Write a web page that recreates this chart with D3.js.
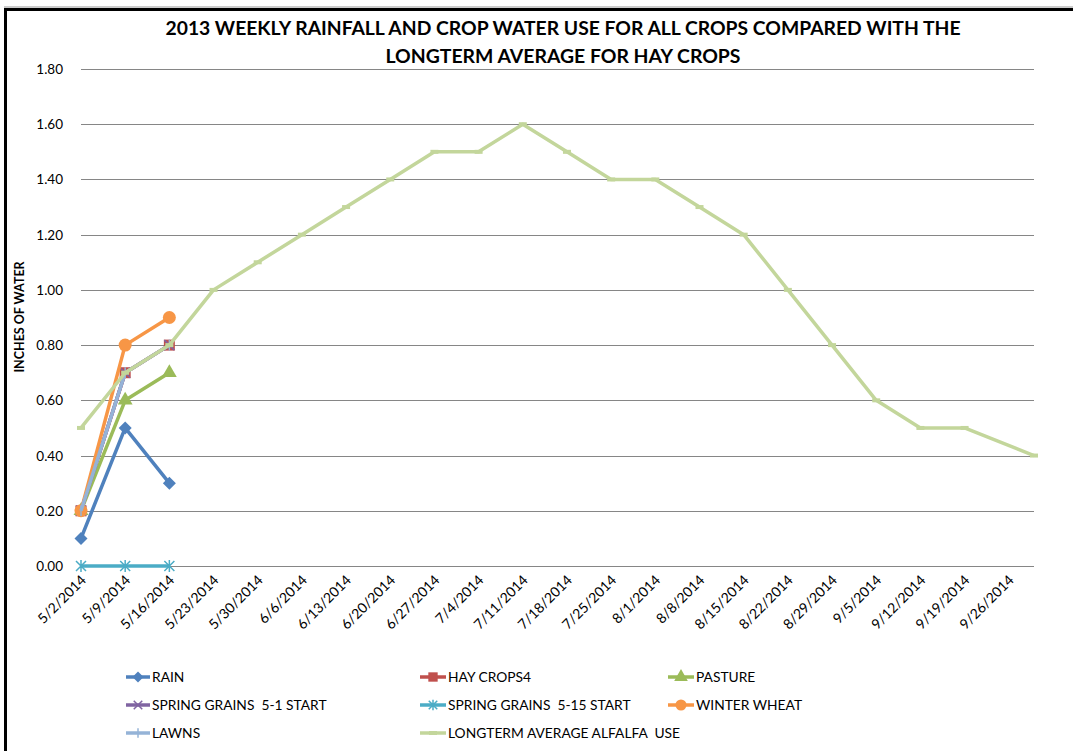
<!DOCTYPE html>
<html><head><meta charset="utf-8">
<script src="https://cdn.jsdelivr.net/npm/d3@7/dist/d3.min.js"></script>
<style>
body{margin:0;background:#fff;}
svg text{font-family:"Lato","Open Sans",sans-serif;fill:#000;}
</style></head>
<body><svg id="c" width="1073" height="751"></svg>
<script>
// ---- data ----
const weekLabels = ["5/2/2014","5/9/2014","5/16/2014","5/23/2014","5/30/2014","6/6/2014","6/13/2014","6/20/2014","6/27/2014","7/4/2014","7/11/2014","7/18/2014","7/25/2014","8/1/2014","8/8/2014","8/15/2014","8/22/2014","8/29/2014","9/5/2014","9/12/2014","9/19/2014","9/26/2014"];
const axisEnd = "9/30/2014";
const earlyDates = ["5/2/2014","5/9/2014","5/16/2014"];
const rain = [0.1, 0.5, 0.3];
const hayCrops4 = [0.2, 0.7, 0.8];
const pasture = [0.2, 0.6, 0.7];
const springGrains51 = [0.2, 0.7, 0.8];
const springGrains515 = [0, 0, 0];
const winterWheat = [0.2, 0.8, 0.9];
const lawns = [0.2, 0.7, 0.8];
const longtermDates = ["5/2/2014","5/9/2014","5/16/2014","5/23/2014","5/30/2014","6/6/2014","6/13/2014","6/20/2014","6/27/2014","7/4/2014","7/11/2014","7/18/2014","7/25/2014","8/1/2014","8/8/2014","8/15/2014","8/22/2014","8/29/2014","9/5/2014","9/12/2014","9/19/2014","9/30/2014"];
const longtermAlfalfa = [0.5, 0.7, 0.8, 1.0, 1.1, 1.2, 1.3, 1.4, 1.5, 1.5, 1.6, 1.5, 1.4, 1.4, 1.3, 1.2, 1.0, 0.8, 0.6, 0.5, 0.5, 0.4];
const yTicks = [0, 0.2, 0.4, 0.6, 0.8, 1.0, 1.2, 1.4, 1.6, 1.8];
const titleLines = ["2013 WEEKLY RAINFALL AND CROP WATER USE FOR ALL CROPS COMPARED WITH THE","LONGTERM AVERAGE FOR HAY CROPS"];

const parse = d3.timeParse("%m/%d/%Y");
const series = [
  {name:"RAIN", dates:earlyDates, values:rain, color:"#4F81BD", marker:"diamond"},
  {name:"HAY CROPS4", dates:earlyDates, values:hayCrops4, color:"#C0504D", marker:"square"},
  {name:"PASTURE", dates:earlyDates, values:pasture, color:"#9BBB59", marker:"triangle"},
  {name:"SPRING GRAINS  5-1 START", dates:earlyDates, values:springGrains51, color:"#8064A2", marker:"x"},
  {name:"SPRING GRAINS  5-15 START", dates:earlyDates, values:springGrains515, color:"#4BACC6", marker:"star"},
  {name:"WINTER WHEAT", dates:earlyDates, values:winterWheat, color:"#F79646", marker:"circle"},
  {name:"LAWNS", dates:earlyDates, values:lawns, color:"#95B3D7", marker:"plus"},
  {name:"LONGTERM AVERAGE ALFALFA  USE", dates:longtermDates, values:longtermAlfalfa, color:"#C3D69B", marker:"dash"}
];

const svg = d3.select("#c");
// frame
svg.append("line").attr("x1",4).attr("x2",1073).attr("y1",7).attr("y2",7).attr("stroke","#999").attr("stroke-width",1);
svg.append("line").attr("x1",4).attr("x2",1073).attr("y1",9.5).attr("y2",9.5).attr("stroke","#000").attr("stroke-width",3);
svg.append("line").attr("x1",5.5).attr("x2",5.5).attr("y1",8).attr("y2",751).attr("stroke","#000").attr("stroke-width",3);

const x = d3.scaleTime().domain([parse(weekLabels[0]), parse(axisEnd)]).range([81, 1034]);
const y = d3.scaleLinear().domain([0, 1.8]).range([566, 69]);

// gridlines
svg.append("g").selectAll("line").data(yTicks).join("line")
  .attr("x1",81).attr("x2",1034).attr("y1",d=>Math.round(y(d))+0.5).attr("y2",d=>Math.round(y(d))+0.5)
  .attr("stroke","#868686").attr("stroke-width",1);

// y axis labels
svg.append("g").selectAll("text").data(yTicks).join("text")
  .attr("x",63).attr("y",d=>y(d)+5).attr("text-anchor","end").attr("font-size",13.5)
  .text(d=>d3.format(".2f")(d));

// x labels
svg.append("g").selectAll("text").data(weekLabels).join("text")
  .attr("transform",d=>`translate(${x(parse(d))+6},${581}) rotate(-45)`)
  .attr("text-anchor","end").attr("font-size",14)
  .text(d=>d);

// titles
svg.append("text").attr("x",563).attr("y",35).attr("text-anchor","middle").attr("font-size",18).attr("font-weight","bold").attr("textLength",795).attr("lengthAdjust","spacingAndGlyphs").text(titleLines[0]);
svg.append("text").attr("x",563).attr("y",63).attr("text-anchor","middle").attr("font-size",18).attr("font-weight","bold").attr("textLength",355).attr("lengthAdjust","spacingAndGlyphs").text(titleLines[1]);
svg.append("text").attr("transform","translate(24,317) rotate(-90)").attr("text-anchor","middle")
  .attr("font-size",12.5).attr("font-weight","bold").text("INCHES OF WATER");

function drawMarker(g, type, cx, cy, color, scale){
  const s = scale||1;
  if(type==="diamond"){
    const r=6.5*s;
    g.append("path").attr("d",`M${cx},${cy-r}L${cx+r},${cy}L${cx},${cy+r}L${cx-r},${cy}Z`).attr("fill",color);
  } else if(type==="square"){
    g.append("rect").attr("x",cx-5.5*s).attr("y",cy-5.5*s).attr("width",11*s).attr("height",11*s).attr("fill",color);
  } else if(type==="triangle"){
    g.append("path").attr("d",d3.symbol(d3.symbolTriangle, 95*s)()).attr("transform",`translate(${cx},${cy})`).attr("fill",color);
  } else if(type==="circle"){
    g.append("circle").attr("cx",cx).attr("cy",cy).attr("r",6.5*s).attr("fill",color);
  } else if(type==="x"){
    const r=5*s;
    g.append("path").attr("d",`M${cx-r},${cy-r}L${cx+r},${cy+r}M${cx-r},${cy+r}L${cx+r},${cy-r}`).attr("stroke",color).attr("stroke-width",1.5);
  } else if(type==="star"){
    const r=5*s;
    g.append("path").attr("d",`M${cx-r},${cy-r}L${cx+r},${cy+r}M${cx-r},${cy+r}L${cx+r},${cy-r}M${cx},${cy-r-1}L${cx},${cy+r+1}`).attr("stroke",color).attr("stroke-width",1.5);
  } else if(type==="plus"){
    const r=5.5*s;
    g.append("path").attr("d",`M${cx},${cy-r}L${cx},${cy+r}`).attr("stroke",color).attr("stroke-width",1.5);
  } else if(type==="dash"){
    g.append("rect").attr("x",cx-4).attr("y",cy-2).attr("width",8).attr("height",4).attr("fill",color);
  }
}

const line = d3.line().x(d=>x(d.date)).y(d=>y(d.v));
series.forEach(s=>{
  const pts = s.dates.map((d,i)=>({date:parse(d), v:s.values[i]}));
  const g = svg.append("g");
  g.append("path").attr("d",line(pts)).attr("fill","none").attr("stroke",s.color)
    .attr("stroke-width", 3.5).attr("stroke-linejoin","round");
  pts.forEach(p=>drawMarker(g, s.marker, x(p.date), y(p.v), s.color));
});

// legend
const legCols = [126, 420, 668];
const legRows = [677, 705, 733];
const lg = svg.append("g");
series.forEach((s,i)=>{
  const cx = legCols[i%3], cy = legRows[Math.floor(i/3)];
  const w = (i%3===0)?24:26;
  lg.append("line").attr("x1",cx).attr("x2",cx+w).attr("y1",cy).attr("y2",cy).attr("stroke",s.color).attr("stroke-width",3.5);
  drawMarker(lg, s.marker, cx+w/2, cy, s.color, 0.85);
  lg.append("text").attr("x",cx+w+2).attr("y",cy+5).attr("font-size",13.8).style("white-space","pre").text(s.name);
});
</script></body></html>
